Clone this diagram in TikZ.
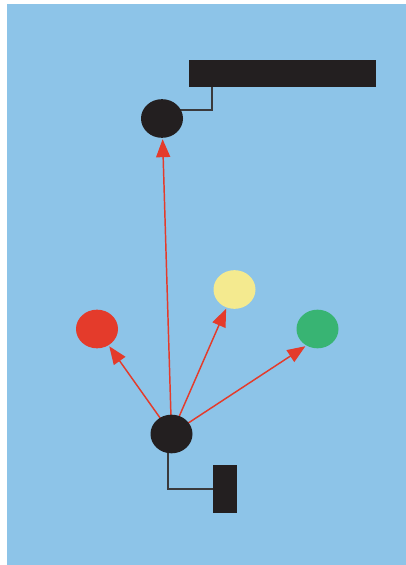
\documentclass[tikz,border=0pt]{standalone}
\usepackage{xcolor}
\usepackage{tikz}
\usetikzlibrary{shapes.geometric,positioning,calc,arrows.meta}

\definecolor{skyblue}{HTML}{8DC4E8}
\definecolor{inkblack}{HTML}{231F20}
\definecolor{dotred}{HTML}{E43B2B}
\definecolor{dotyellow}{HTML}{F4EA8F}
\definecolor{dotgreen}{HTML}{38B473}
\definecolor{wiregray}{HTML}{3A3A3C}

\pgfdeclarelayer{bg}
\pgfdeclarelayer{wires}
\pgfsetlayers{bg,wires,main}

\tikzset{
  dot/.style={ellipse, inner sep=0pt, minimum width=31.5pt, minimum height=29pt},
  bar/.style={rectangle, inner sep=0pt, fill=inkblack},
  ray/.style={draw=dotred, line width=1.1pt, -{Triangle[length=13.5pt, width=10.5pt]}, shorten >=0.8pt},
  wire/.style={draw=wiregray, line width=0.9pt}
}

\begin{document}
\begin{tikzpicture}[x=0.75pt, y=-0.75pt]
  \useasboundingbox (0,0) rectangle (406,565);
  \begin{pgfonlayer}{bg}
    \fill[skyblue] (7,4) rectangle (406,565);
  \end{pgfonlayer}

  % dots
  \node[dot, fill=inkblack] (topdot) at (162,118.5) {};
  \node[dot, fill=inkblack] (botdot) at (171.5,434) {};
  \node[dot, fill=dotred] (reddot) at (97,329) {};
  \node[dot, fill=dotyellow] (yellowdot) at (234.5,289.5) {};
  \node[dot, fill=dotgreen] (greendot) at (317.5,329) {};

  % label bars
  \node[bar, minimum width=140.25pt, minimum height=20.25pt] (toplabel) at (282.5,73.5) {};
  \node[bar, minimum width=18pt, minimum height=35.5pt] (botlabel) at (225,489) {};

  \coordinate (topknee) at (212,110);
  \coordinate (botknee) at (168,489);

  \begin{pgfonlayer}{wires}
    % leader lines
    \draw[wire] (topdot.center |- topknee) -- (topknee) -- (topknee |- toplabel.south);
    \draw[wire] (botknee |- botdot.center) -- (botknee) -- (botknee -| botlabel.west);

    % arrows out of the lower dot
    \draw[ray] (botdot.center) -- (topdot);
    \draw[ray] (botdot.center) -- (reddot);
    \draw[ray] (botdot.center) -- (yellowdot);
    \draw[ray] (botdot.center) -- (greendot.236);
  \end{pgfonlayer}
\end{tikzpicture}
\end{document}
